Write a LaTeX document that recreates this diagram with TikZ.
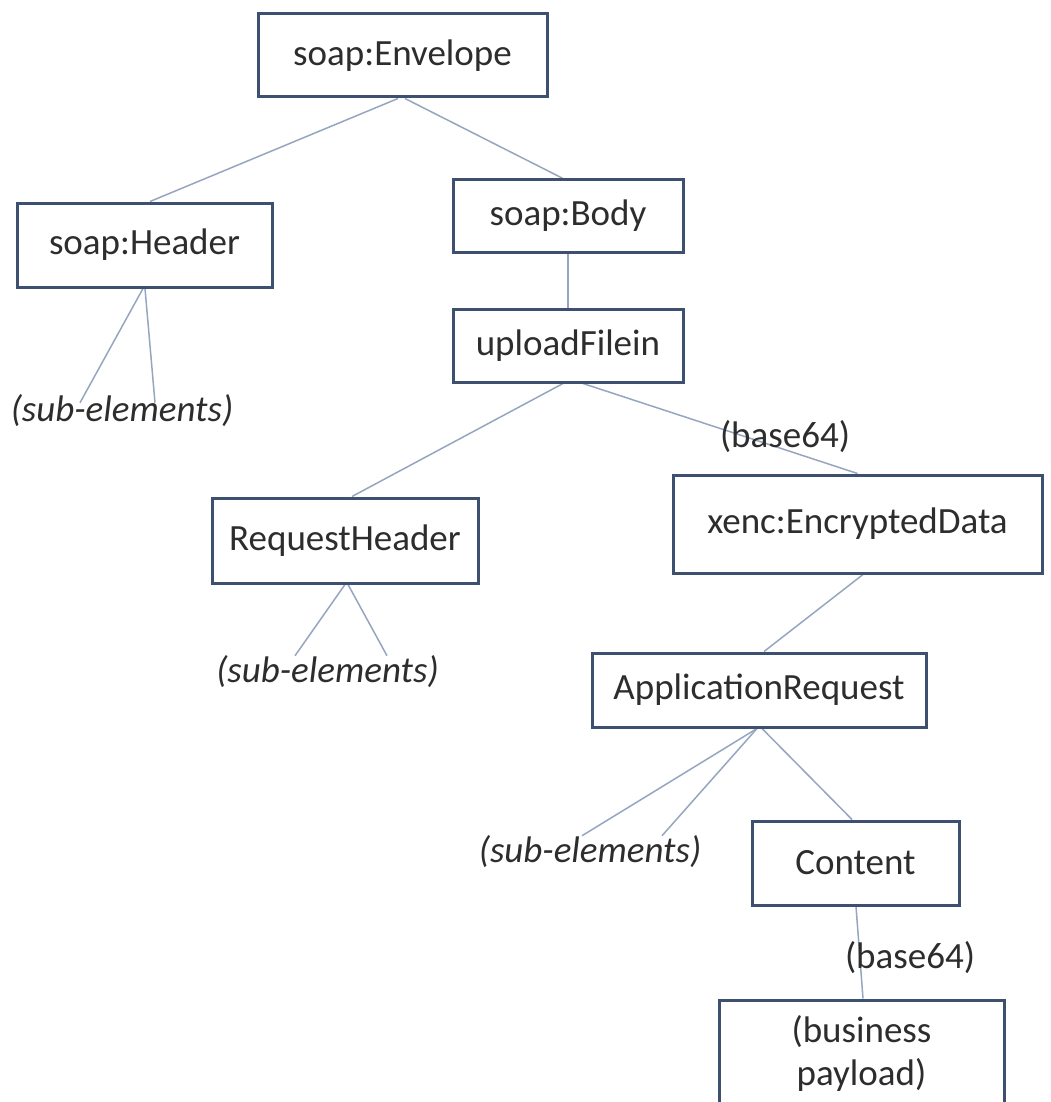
\documentclass[tikz,border=0pt]{standalone}
\usepackage{fontspec}
\setmainfont{Carlito}
\usetikzlibrary{backgrounds}
\definecolor{boxc}{RGB}{62,80,112}
\definecolor{linkc}{RGB}{150,166,192}
\definecolor{txtc}{RGB}{45,45,45}
\begin{document}
\begin{tikzpicture}[x=1pt,y=1pt,
  box/.style={draw=boxc, line width=3pt, fill=white, inner sep=0pt,
    font=\fontsize{37}{43}\selectfont, text=txtc},
  lbl/.style={inner sep=0pt, font=\fontsize{37}{43}\selectfont, text=txtc},
  sub/.style={inner sep=0pt, font=\fontsize{37}{43}\selectfont\itshape, text=txtc},
  link/.style={draw=linkc, line width=1.5pt}]
\useasboundingbox (0,0) rectangle (1051,-1102);
\clip (0,0) rectangle (1051,-1102);

\node[box, minimum width=289, minimum height=83] (env) at (402.5,-55.5) {soap:Envelope};
\node[box, minimum width=255, minimum height=84] (hdr) at (144.5,-245) {soap:Header};
\node[box, minimum width=230, minimum height=72] (body) at (568,-216) {soap:Body};
\node[box, minimum width=230, minimum height=73] (upl) at (568,-345.5) {uploadFilein};
\node[box, minimum width=266, minimum height=85] (rh) at (345,-540.5) {RequestHeader};
\node[box, minimum width=369, minimum height=98] (xenc) at (857.5,-524) {xenc:EncryptedData};
\node[box, minimum width=334, minimum height=74] (app) at (759,-690) {ApplicationRequest};
\node[box, minimum width=207, minimum height=84] (cont) at (855.5,-863) {Content};
\node[box, minimum width=285, minimum height=106, align=center] (pay) at (861.5,-1053) {(business\\payload)};

\node[sub] (s1) at (122,-411) {(sub-elements)};
\node[sub] (s2) at (327.5,-672) {(sub-elements)};
\node[sub] (s3) at (590,-852) {(sub-elements)};
\node[lbl] (b1) at (785,-437) {(base64)};
\node[lbl] (b2) at (910,-958) {(base64)};

\begin{pgfonlayer}{background}
\fill[white] (0,0) rectangle (1051,-1102);
\draw[link] ([xshift=-4.5]env.south) -- ([xshift=5.5]hdr.north);
\draw[link] ([xshift=2.5]env.south) -- ([xshift=-5]body.north);
\draw[link] ([xshift=-1.5]hdr.south) -- ([xshift=-42,yshift=-8]s1.north);
\draw[link] ([xshift=0.5]hdr.south) -- ([xshift=33,yshift=-8]s1.north);
\draw[link] (body.south) -- (upl.north);
\draw[link] ([xshift=-5]upl.south) -- ([xshift=7]rh.north);
\draw[link] ([xshift=15]upl.south) -- (xenc.north);
\draw[link] (rh.south) -- ([xshift=-32.5]s2.north);
\draw[link] ([xshift=3]rh.south) -- ([xshift=59.5]s2.north);
\draw[link] ([xshift=5.5]xenc.south) -- ([xshift=5]app.north);
\draw[link] ([xshift=-2]app.south) -- ([xshift=-8]s3.north);
\draw[link] ([xshift=-2]app.south) -- ([xshift=72]s3.north);
\draw[link] ([xshift=3]app.south) -- ([xshift=-3.5]cont.north);
\draw[link] ([xshift=0.5]cont.south) -- ([xshift=1.5]pay.north);
\end{pgfonlayer}
\end{tikzpicture}
\end{document}
